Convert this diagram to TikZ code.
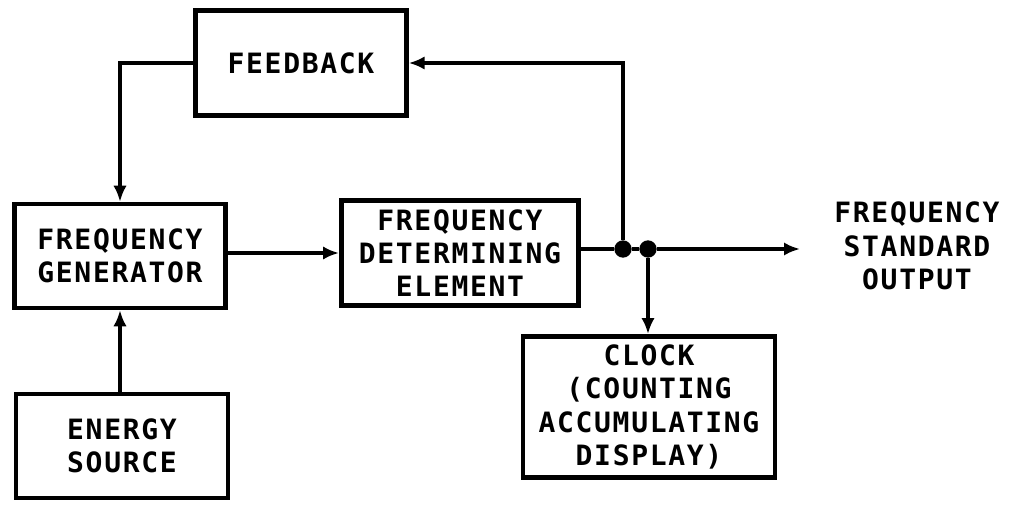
\documentclass[tikz,border=0pt]{standalone}
\usepackage{fontspec}
\setmainfont{DejaVu Sans Mono}[LetterSpace=6]
\usepackage{tikz}
\usetikzlibrary{arrows.meta}
\usetikzlibrary{positioning}
\usetikzlibrary{calc}

\tikzset{
  blk/.style={draw, line width=3.4pt, align=center, inner sep=0pt},
  conn/.style={line width=2.6pt, -{Latex[length=12pt, width=10pt]}},
  wire/.style={line width=2.6pt},
  junc/.style={circle, fill=black, inner sep=0pt, minimum size=13pt},
}

\begin{document}
\begin{tikzpicture}[x=0.75pt,y=0.75pt,yscale=-1,xscale=1,
  font=\fontsize{21}{25}\selectfont\bfseries]

\useasboundingbox (0,0) rectangle (1011,506);

% Blocks
\node [blk, minimum width=158pt, minimum height=79pt] (fb)  at (301,63)    {FEEDBACK};
\node [blk, minimum width=158pt, minimum height=78pt] (gen) at (120,256)   {FREQUENCY\\GENERATOR};
\node [blk, minimum width=178pt, minimum height=79pt] (fde) at (460,253)   {FREQUENCY\\DETERMINING\\ELEMENT};
\node [blk, minimum width=159pt, minimum height=78pt] (src) at (122,446)   {ENERGY\\SOURCE};
\node [blk, minimum width=189pt, minimum height=106pt] (clk) at (649,407)  {CLOCK\\(COUNTING\\ACCUMULATING\\DISPLAY)};

% Output label
\node [align=center] (outlbl) at (917,246) {FREQUENCY\\STANDARD\\OUTPUT};

% Junctions
\node [junc] (j1) at (623,249) {};
\node [junc] (j2) at (648,249) {};
\coordinate (out) at (800,249);

% Forward path
\draw [conn] (src.north -| gen.south) -- (gen.south);
\draw [conn] (gen.east |- fde.west) -- (fde.west);
\draw [wire] (fde.east |- j1) -- (j1) -- (j2);
\draw [conn] (j2) -- (out);
\draw [conn] (j2) -- (j2 |- clk.north);

% Feedback loop
\draw [conn] (j1) |- (fb.east);
\draw [conn] (fb.west) -| (gen.north);

\end{tikzpicture}
\end{document}
